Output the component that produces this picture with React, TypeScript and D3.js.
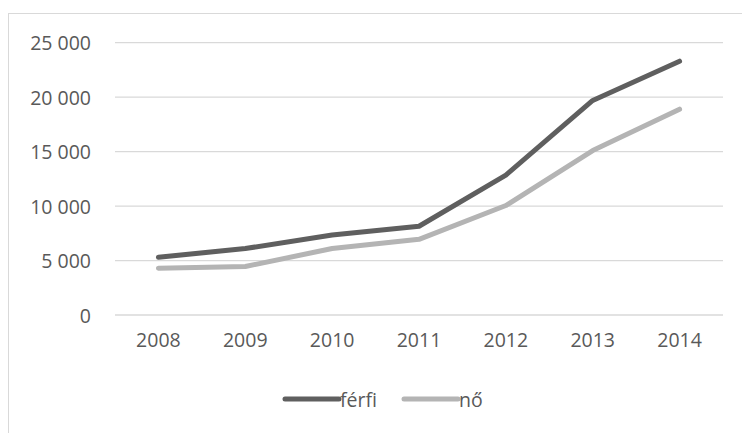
import * as d3 from "d3";

const years = ["2008", "2009", "2010", "2011", "2012", "2013", "2014"];
const ferfi = [5300, 6100, 7350, 8150, 12850, 19700, 23300];
const no = [4300, 4450, 6100, 6950, 10050, 15100, 18900];
const yTicks = [0, 5000, 10000, 15000, 20000, 25000];

const series = [
  { name: "férfi", values: ferfi, color: "#5f5f5f" },
  { name: "nő", values: no, color: "#b4b4b4" },
];

const W = 742;
const H = 433;
const FONT = "'Open Sans', 'Noto Sans', sans-serif";
const TEXT = "#595959";
const GRID = "#d9d9d9";

const fmt = (v: number) => d3.format(",")(v).replace(/,/g, "\u00a0");

export default function App() {
  const x = d3.scalePoint<string>().domain(years).range([115, 723]).padding(0.5);
  const y = d3.scaleLinear().domain([0, 25000]).range([315, 42.7]);

  const line = d3
    .line<number>()
    .x((_, i) => x(years[i]) ?? 0)
    .y((d) => y(d));

  return (
    <svg
      width={W}
      height={H}
      style={{ position: "absolute", left: 0, top: 0, background: "#fff" }}
      fontFamily={FONT}
    >
      <rect x={8.5} y={13.5} width={W + 20} height={H + 20} fill="#fff" stroke={GRID} />

      {yTicks.map((t) => (
        <g key={t}>
          <line x1={115} x2={723} y1={y(t)} y2={y(t)} stroke={GRID} strokeWidth={1.3} />
          <text
            x={91}
            y={y(t)}
            textAnchor="end"
            dominantBaseline="central"
            fontSize={19.5}
            fill={TEXT}
          >
            {fmt(t)}
          </text>
        </g>
      ))}

      {years.map((yr) => (
        <text
          key={yr}
          x={x(yr)}
          y={339}
          textAnchor="middle"
          dominantBaseline="central"
          fontSize={19.5}
          fill={TEXT}
        >
          {yr}
        </text>
      ))}

      {series.map((s) => (
        <path
          key={s.name}
          d={line(s.values) ?? ""}
          fill="none"
          stroke={s.color}
          strokeWidth={5}
          strokeLinecap="round"
          strokeLinejoin="round"
        />
      ))}

      {/* legend */}
      {series.map((s, i) => {
        const lx = 285 + i * 119;
        return (
          <g key={s.name}>
            <line
              x1={lx}
              x2={lx + 54}
              y1={399}
              y2={399}
              stroke={s.color}
              strokeWidth={5}
              strokeLinecap="round"
            />
            <text x={lx + 55} y={399} dominantBaseline="central" fontSize={19.5} fill={TEXT}>
              {s.name}
            </text>
          </g>
        );
      })}
    </svg>
  );
}
